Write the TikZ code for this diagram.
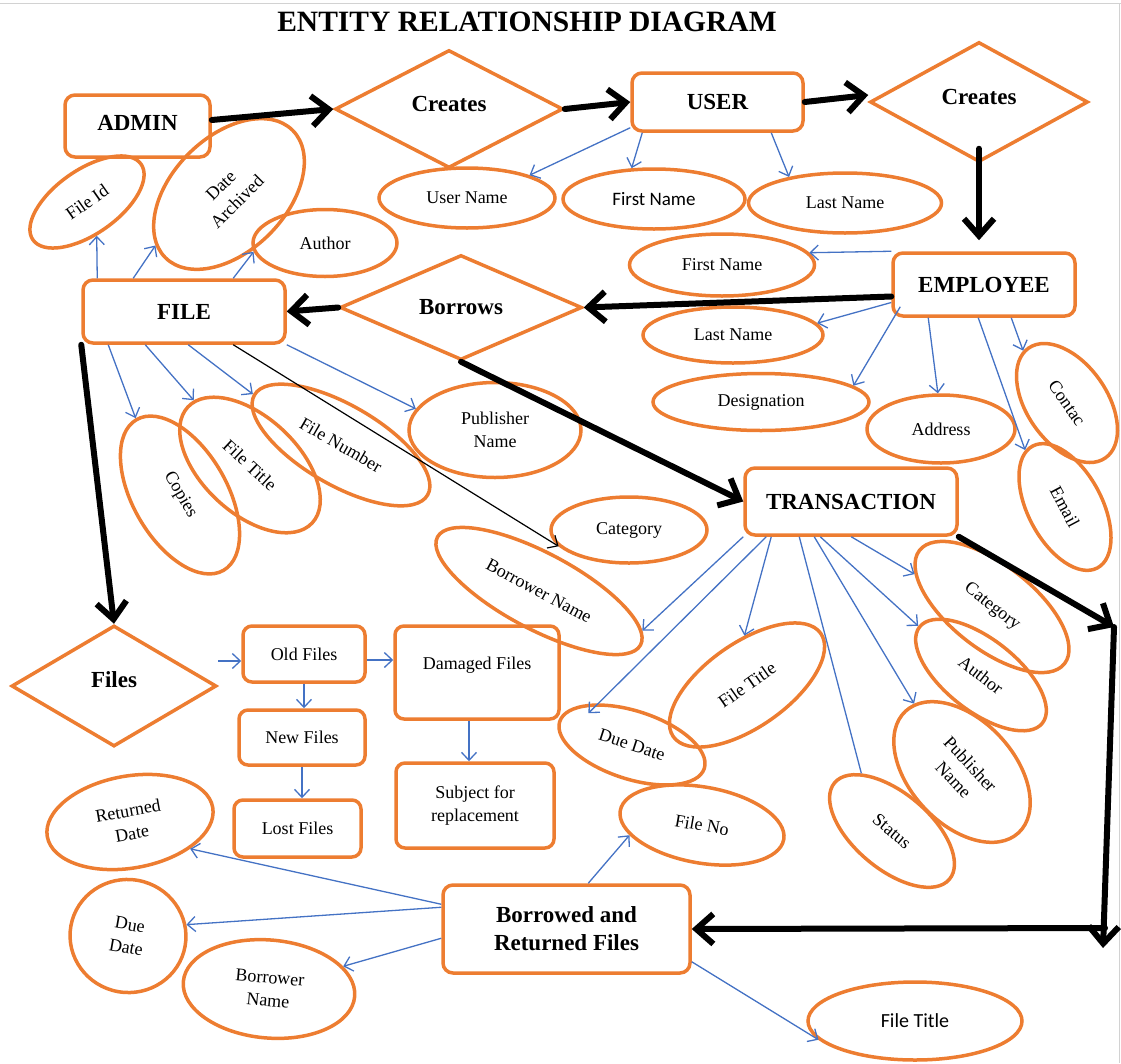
\documentclass[tikz,border=0pt]{standalone}
\usepackage{fontspec}
\setmainfont{Liberation Serif}
\newfontfamily\calfont{Carlito}
\usetikzlibrary{shapes.geometric,arrows.meta}
\definecolor{eorange}{HTML}{ED7D31}
\definecolor{eblue}{HTML}{4472C4}
\begin{document}
\begin{tikzpicture}[x=1pt,y=-1pt,
  ent/.style={draw=eorange, line width=3.5pt, rounded corners=10pt, inner sep=0pt, align=center, font=\bfseries\fontsize{23}{28}\selectfont},
  rel/.style={draw=eorange, line width=3.5pt, diamond, inner sep=0pt, font=\bfseries\fontsize{23}{28}\selectfont},
  attr/.style={draw=eorange, line width=3.5pt, ellipse, inner sep=0pt, align=center, font=\fontsize{18}{23}\selectfont},
  sbox/.style={draw=eorange, line width=3.5pt, rounded corners=9pt, inner sep=0pt, align=center, font=\fontsize{18}{23}\selectfont},
  sz/.style 2 args={minimum width=#1pt, minimum height=#2pt},
  link/.style={draw=eblue, line width=1.3pt, -{Straight Barb[length=8pt,width=15pt]}},
  blink/.style={draw=black, line width=1.2pt, -{Straight Barb[length=8pt,width=15pt]}},
  plain/.style={draw=eblue, line width=1.3pt},
  big/.style={draw=black, line width=6pt, line cap=round, -{Straight Barb[length=17pt,width=30pt]}},
]
\useasboundingbox (0,0) rectangle (1121,1063);
\draw[gray!35, line width=1pt] (0,3) -- (1121,3);
\draw[gray!35, line width=1pt] (1119,3) -- (1119,1063);

\node[font=\bfseries\fontsize{29.5}{34}\selectfont] (title) at (527,22) {ENTITY RELATIONSHIP DIAGRAM};

% entities and relations
\node[ent, sz={145}{62}] (admin) at (137.5,126) {\raisebox{6pt}{ADMIN}};
\node[rel, sz={228}{118}] (cr1) at (449,109) {\raisebox{10pt}{Creates}};
\node[ent, sz={171}{58}] (user) at (717.5,102) {USER};
\node[rel, sz={218}{120}] (cr2) at (979,102) {\raisebox{10pt}{Creates}};
\node[ent, sz={182}{63}] (emp) at (984,284.5) {EMPLOYEE};
\node[ent, sz={202}{63}] (file) at (184,311.5) {FILE};
\node[rel, sz={242}{105}] (bor) at (461,307.5) {Borrows};
\node[ent, sz={212}{67}] (trans) at (851,501.5) {TRANSACTION};
\node[rel, sz={205}{121}] (files) at (114,686) {\raisebox{12pt}{Files}};
\node[ent, sz={247}{88}] (brf) at (566.5,929) {Borrowed and\\Returned Files};

% flow boxes
\node[sbox, sz={122}{56}] (oldf) at (304,654) {Old Files};
\node[sbox, sz={126}{55}] (newf) at (302,737.5) {New Files};
\node[sbox, sz={127}{57}] (lostf) at (297.5,828.5) {Lost Files};
\node[sbox, sz={164}{93}] (dmg) at (477,672.5) {\raisebox{19pt}{Damaged Files}};
\node[sbox, sz={158}{85}] (subj) at (475,805.5) {\raisebox{12pt}{\begin{tabular}{@{}c@{}}Subject for\\replacement\end{tabular}}};

% attributes
\node[attr, rotate=35, sz={132}{64}] (fid) at (87,202) {File Id};
\node[attr, rotate=45, sz={180}{114}] (da) at (229,194) {Date\\Archived};
\node[attr, sz={144}{67}] (au1) at (325,243) {Author};
\node[attr, sz={176}{60}] (un) at (467,198) {User Name};
\node[attr, sz={182}{60}, font=\calfont\fontsize{19}{23}\selectfont] (fn1) at (654,199) {First Name};
\node[attr, sz={193}{60}] (ln1) at (845,203) {Last Name};
\node[attr, sz={185}{62}] (fn2) at (722,265) {First Name};
\node[attr, sz={180}{56}] (ln2) at (733,335) {Last Name};
\node[attr, sz={216}{57}] (des) at (761,402) {Designation};
\node[attr, sz={148}{68}] (adr) at (941,429) {Address};
\node[attr, rotate=-55, sz={134}{80}] (con) at (1067,403) {Contac};
\node[attr, rotate=-62, sz={138}{74}] (em) at (1065,507) {Email};
\node[attr, rotate=-60, sz={174}{94}] (cop) at (180,495) {Copies};
\node[attr, rotate=-43, sz={170}{96}] (ft1) at (250,465) {File Title};
\node[attr, rotate=-30, sz={200}{80}] (fnum) at (341,445) {File Number};
\node[attr, sz={172}{95}] (pub1) at (495,430) {Publisher\\Name};
\node[attr, sz={156}{66}] (cat1) at (629,530) {Category};
\node[attr, rotate=-28, sz={230}{76}] (bn1) at (539,591) {Borrower Name};
\node[attr, rotate=-18, sz={152}{68}] (dd1) at (632,745) {Due Date};
\node[attr, rotate=35, sz={180}{84}] (ft2) at (747,685) {File Title};
\node[attr, rotate=-38, sz={184}{84}] (cat2) at (992,607) {Category};
\node[attr, rotate=-38, sz={156}{72}] (au2) at (981,675) {Author};
\node[attr, rotate=-47, sz={166}{104}] (pub2) at (962,772) {Publisher\\Name};
\node[attr, rotate=-40, sz={150}{76}] (st) at (892,831) {Status};
\node[attr, rotate=10, sz={168}{92}] (rd) at (130,822) {Returned\\Date};
\node[attr, rotate=-10, sz={116}{113}] (dd2) at (128,936) {Due\\Date};
\node[attr, rotate=-5, sz={172}{98}] (bn2) at (269,989) {Borrower\\Name};
\node[attr, rotate=-10, sz={166}{76}] (fno) at (702,825) {File No};
\node[attr, sz={214}{78}, font=\calfont\fontsize{20}{24}\selectfont] (ft3) at (915,1021) {File Title};

% thick relationship arrows
\draw[big] ([yshift=6pt]admin.east) -- (cr1.west);
\draw[big] (cr1.east) -- (user.west);
\draw[big] (user.east) -- ([yshift=7pt]cr2.west);
\path ([yshift=15pt]cr2.south) coordinate (c0);
\draw[big, shorten >=11pt] (c0) -- (c0 |- emp.north);
\draw[big] ([yshift=-12pt]emp.west) -- (bor.east);
\draw[big] (bor.west) -- (file.east);
\draw[big] (bor.south) -- (trans.west);
\draw[big] (file.south west) -- (files.north);
\coordinate (c1) at (1114,627);
\coordinate (c2) at (1103,948);
\coordinate (c3) at (1105,928);
\draw[big] (trans.south east) -- (c1);
\draw[big] (c1) -- (c2);
\draw[big] (c3) -- (brf.east);

% FILE attributes
\draw[link] ([xshift=16pt]file.north west) -- (fid.-109);
\draw[link] ([xshift=52pt]file.north west) -- (da.170);
\draw[link] ([xshift=152pt]file.north west) -- (au1.187);
\draw[link] ([xshift=27pt]file.south west) -- (cop.west);
\draw[link] ([xshift=64pt]file.south west) -- (ft1.174);
\draw[link] ([xshift=107pt]file.south west) -- (fnum.west);
\draw[link] (file.south east) -- (pub1.165);
\draw[blink] ([xshift=152pt]file.south west) -- (cat1.193);

% USER attributes
\draw[link] ([yshift=5pt]user.south west) -- (un.20);
\draw[link] ([xshift=12pt]user.south west) -- (fn1.126);
\draw[link] ([xshift=141pt]user.south west) -- (ln1.155);

% EMPLOYEE attributes
\draw[link] (emp.north west) -- (fn2.8);
\draw[link] ([yshift=-18pt]emp.west) -- (ln2.8);
\draw[link] ([xshift=9pt,yshift=11pt]emp.south west) -- (des.10);
\draw[link] ([xshift=37pt]emp.south west) -- (adr.95);
\draw[link] ([xshift=87pt]emp.south west) -- (em.187);
\draw[link] ([xshift=120pt]emp.south west) -- (con.185);

% TRANSACTION attributes
\draw[link] (trans.south west) -- (bn1.7);
\draw[link, shorten >=-14pt] ([xshift=23pt]trans.south west) -- (dd1.147);
\draw[link] ([xshift=28pt]trans.south west) -- (ft2.58);
\draw[plain] ([xshift=56pt]trans.south west) -- (st.158);
\draw[link] ([xshift=71pt]trans.south west) -- (pub2.172);
\draw[link] ([xshift=77pt]trans.south west) -- (au2.west);
\draw[link] ([xshift=108pt]trans.south west) -- (cat2.195);

% Borrowed and Returned attributes
\draw[link] ([yshift=-21pt]brf.north west) -- (rd.-34);
\draw[link] ([yshift=-24pt]brf.north west) -- (dd2.21);
\draw[link] ([yshift=-55pt]brf.north west) -- (bn2.22);
\draw[link] ([xshift=147pt]brf.north west) -- (fno.198);
\draw[link] ([yshift=13pt]brf.south east) -- (ft3.191);

% flow of files
\path ([yshift=25pt]files.east) coordinate (f1);
\draw[link] (f1) -- (f1 -| oldf.west);
\path ([yshift=-6pt]oldf.east) coordinate (f2);
\draw[link] (f2) -- (f2 -| dmg.west);
\draw[link] (oldf.south) -- (oldf.south |- newf.north);
\draw[link] (newf.south) -- (newf.south |- lostf.north);
\path ([xshift=-8pt]dmg.south) coordinate (f3);
\draw[link] (f3) -- (f3 |- subj.north);
\end{tikzpicture}
\end{document}
